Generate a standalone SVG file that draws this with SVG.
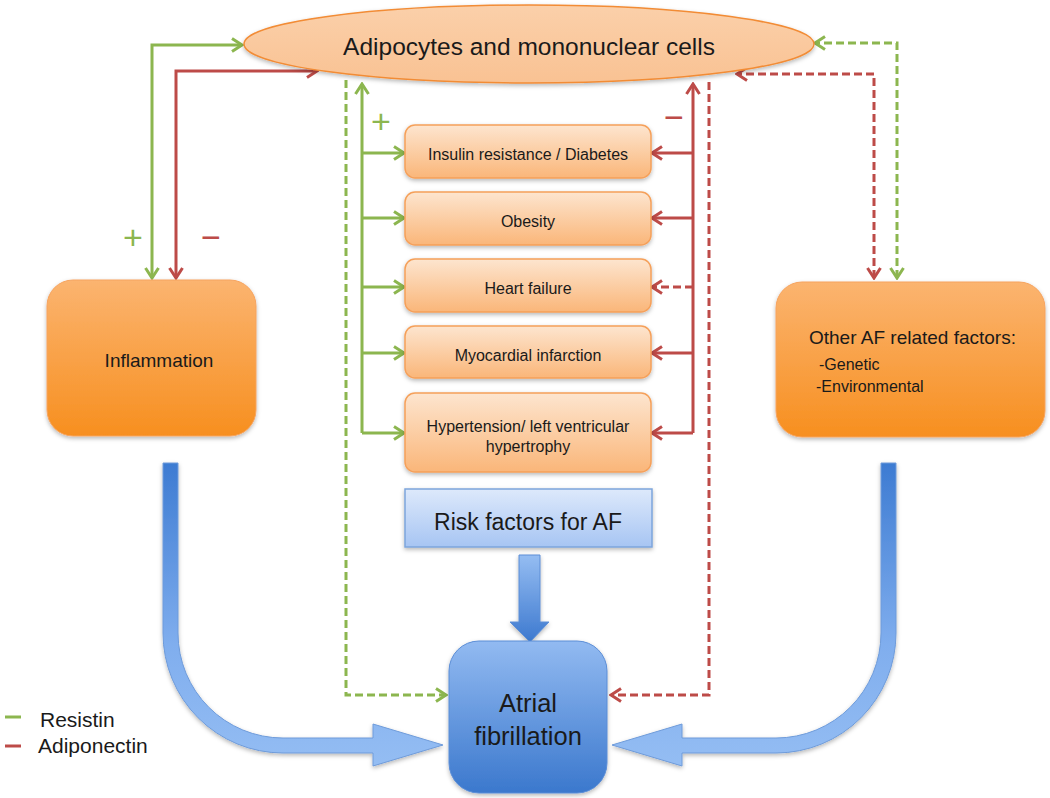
<svg xmlns="http://www.w3.org/2000/svg" width="1050" height="798" viewBox="0 0 1050 798">
<defs>
<style>
text{font-family:"Liberation Sans",Arial,sans-serif;fill:#1a1a1a}
.g{stroke:#8CB64F;stroke-width:3;fill:none}
.r{stroke:#BD4B48;stroke-width:3;fill:none}
.d{stroke-dasharray:8 4}
.cb{fill:url(#peach);stroke:#F5A05A;stroke-width:1.5}
.ct{font-size:16px;text-anchor:middle}
.big{fill:url(#orange);stroke:#F6A35E;stroke-width:1}
.sg{font-size:34px;text-anchor:middle}
</style>
<linearGradient id="peach" x1="0" y1="0" x2="0" y2="1"><stop offset="0" stop-color="#FDE5CF"/><stop offset="1" stop-color="#FAB679"/></linearGradient>
<linearGradient id="orange" x1="0" y1="0" x2="0" y2="1"><stop offset="0" stop-color="#FBB470"/><stop offset="1" stop-color="#F78F1F"/></linearGradient>
<linearGradient id="ell" x1="0" y1="0" x2="0" y2="1"><stop offset="0" stop-color="#FBD0AA"/><stop offset="1" stop-color="#F9C293"/></linearGradient>
<linearGradient id="risk" x1="0" y1="0" x2="0" y2="1"><stop offset="0" stop-color="#DDE9FB"/><stop offset="1" stop-color="#A7C5F3"/></linearGradient>
<linearGradient id="af" x1="0" y1="0" x2="0" y2="1"><stop offset="0" stop-color="#92BAF1"/><stop offset="1" stop-color="#3B78CD"/></linearGradient>
<linearGradient id="bigarrow" gradientUnits="userSpaceOnUse" x1="0" y1="463" x2="0" y2="766"><stop offset="0" stop-color="#3D7BD2"/><stop offset="0.6" stop-color="#80AEEE"/><stop offset="1" stop-color="#94BDF3"/></linearGradient>
<linearGradient id="midarrow" gradientUnits="userSpaceOnUse" x1="0" y1="555" x2="0" y2="642"><stop offset="0" stop-color="#95BDF2"/><stop offset="1" stop-color="#3D79CF"/></linearGradient>
<filter id="sh" x="-10%" y="-10%" width="120%" height="130%"><feDropShadow dx="0" dy="2" stdDeviation="2" flood-color="#000" flood-opacity="0.28"/></filter>
<marker id="mg" viewBox="0 0 14 16" refX="12" refY="8" markerWidth="14" markerHeight="16" markerUnits="userSpaceOnUse" orient="auto-start-reverse"><path d="M2,1.5 L12,8 L2,14.5" fill="none" stroke="#8CB64F" stroke-width="3"/></marker>
<marker id="mr" viewBox="0 0 14 16" refX="12" refY="8" markerWidth="14" markerHeight="16" markerUnits="userSpaceOnUse" orient="auto-start-reverse"><path d="M2,1.5 L12,8 L2,14.5" fill="none" stroke="#BD4B48" stroke-width="3"/></marker>
</defs>
<rect width="1050" height="798" fill="#fff"/>

<g id="connectors">
<path class="g" d="M152,278 L152,45 L242,45" marker-start="url(#mg)" marker-end="url(#mg)"/>
<path class="r" d="M176,278 L176,71 L317,71" marker-start="url(#mr)" marker-end="url(#mr)"/>
<path class="g" d="M362,433 L362,84" marker-end="url(#mg)"/>
<path class="g" d="M362,153 L404,153" marker-end="url(#mg)"/>
<path class="g" d="M362,218 L404,218" marker-end="url(#mg)"/>
<path class="g" d="M362,287 L404,287" marker-end="url(#mg)"/>
<path class="g" d="M362,353 L404,353" marker-end="url(#mg)"/>
<path class="g" d="M362,433 L404,433" marker-end="url(#mg)"/>
<path class="r" d="M693,433 L693,84" marker-end="url(#mr)"/>
<path class="r" d="M693,153 L652,153" marker-end="url(#mr)"/>
<path class="r" d="M693,218 L652,218" marker-end="url(#mr)"/>
<path class="r d" d="M693,287 L652,287" marker-end="url(#mr)"/>
<path class="r" d="M693,353 L652,353" marker-end="url(#mr)"/>
<path class="r" d="M693,433 L652,433" marker-end="url(#mr)"/>
<path class="g d" d="M346,80 L346,695 L446,695" marker-end="url(#mg)"/>
<path class="r d" d="M709,82 L709,695 L611,695" marker-end="url(#mr)"/>
<path class="g d" d="M897,278 L897,43 L815,43" marker-start="url(#mg)" marker-end="url(#mg)"/>
<path class="r d" d="M874,278 L874,74 L737,74" marker-start="url(#mr)" marker-end="url(#mr)"/>
<path d="M163,463 L163,633 A120,120 0 0 0 283,753 L373,753 L373,766 L443,745 L373,724 L373,738 L283,738 A105,105 0 0 1 178,633 L178,463 Z" fill="url(#bigarrow)" stroke="#6E9BDA" stroke-width="1" filter="url(#sh)"/>
<path d="M896,463 L896,633 A120,120 0 0 1 776,753 L682,753 L682,766 L612,745 L682,724 L682,738 L776,738 A105,105 0 0 0 881,633 L881,463 Z" fill="url(#bigarrow)" stroke="#6E9BDA" stroke-width="1" filter="url(#sh)"/>
<path d="M519,555 L540,555 L540,622 L549,622 L530,642 L510,622 L519,622 Z" fill="url(#midarrow)" stroke="#5D8ED6" stroke-width="1" filter="url(#sh)"/>
</g>

<g id="adipocytes">
<ellipse cx="529" cy="44" rx="285" ry="39" fill="url(#ell)" stroke="#F28C36" stroke-width="1.5" filter="url(#sh)"/>
<text x="529" y="55" font-size="24.5" text-anchor="middle">Adipocytes and mononuclear cells</text>
</g>

<g id="inflammation">
<rect x="47" y="280" width="209" height="156" rx="26" class="big" filter="url(#sh)"/>
<text x="159" y="367" font-size="19" text-anchor="middle">Inflammation</text>
</g>

<g id="other">
<rect x="776" y="282" width="269" height="155" rx="26" class="big" filter="url(#sh)"/>
<text x="809" y="344" font-size="19">Other AF related factors:</text>
<text x="819" y="370" font-size="16">-Genetic</text>
<text x="816" y="392" font-size="16">-Environmental</text>
</g>

<g id="insulin">
<rect x="405" y="125" width="246" height="53" rx="10" class="cb" filter="url(#sh)"/>
<text x="528" y="160" class="ct">Insulin resistance / Diabetes</text>
</g>
<g id="obesity">
<rect x="405" y="192" width="246" height="53" rx="10" class="cb" filter="url(#sh)"/>
<text x="528" y="227" class="ct">Obesity</text>
</g>
<g id="heartfailure">
<rect x="405" y="259" width="246" height="53" rx="10" class="cb" filter="url(#sh)"/>
<text x="528" y="294" class="ct">Heart failure</text>
</g>
<g id="mi">
<rect x="405" y="326" width="246" height="52" rx="10" class="cb" filter="url(#sh)"/>
<text x="528" y="361" class="ct">Myocardial infarction</text>
</g>
<g id="hypertension">
<rect x="405" y="393" width="246" height="79" rx="10" class="cb" filter="url(#sh)"/>
<text x="528" y="432" class="ct">Hypertension/ left ventricular</text>
<text x="528" y="452" class="ct">hypertrophy</text>
</g>

<g id="riskfactors">
<rect x="405" y="489" width="247" height="58" fill="url(#risk)" stroke="#7DA5DC" stroke-width="1.5" filter="url(#sh)"/>
<text x="528" y="530" font-size="23" text-anchor="middle">Risk factors for AF</text>
</g>

<g id="atrialfibrillation">
<rect x="449" y="641" width="158" height="152" rx="30" fill="url(#af)" stroke="#5B8DD6" stroke-width="1" filter="url(#sh)"/>
<text x="528" y="712" font-size="25.5" text-anchor="middle">Atrial</text>
<text x="528" y="745" font-size="25.5" text-anchor="middle">fibrillation</text>
</g>

<g id="signs">
<text x="133" y="249" class="sg" style="fill:#8CB64F">+</text>
<text x="211" y="249" class="sg" style="fill:#BD4B48">−</text>
<text x="381" y="133" class="sg" style="fill:#8CB64F">+</text>
<text x="674" y="129" class="sg" style="fill:#BD4B48">−</text>
</g>

<g id="legend">
<line x1="5" y1="717" x2="21" y2="717" stroke="#8CB64F" stroke-width="3"/>
<line x1="5" y1="746" x2="21" y2="746" stroke="#BD4B48" stroke-width="3"/>
<text x="40" y="727" font-size="21">Resistin</text>
<text x="38" y="753" font-size="21">Adiponectin</text>
</g>
</svg>
